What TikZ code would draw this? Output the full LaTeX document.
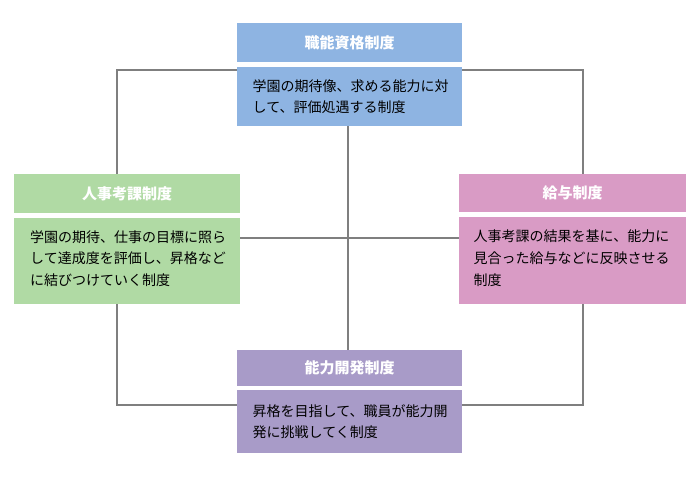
\documentclass[tikz,border=0pt]{standalone}
\usepackage{fontspec}
\newfontfamily\jp{Noto Sans CJK JP}
\definecolor{cblue}{HTML}{8EB4E2}
\definecolor{cgreen}{HTML}{B0DAA4}
\definecolor{cpink}{HTML}{D99BC5}
\definecolor{cpurple}{HTML}{A89BC8}
\definecolor{lgray}{HTML}{7F7F7F}
\tikzset{
  conn/.style={draw=lgray, line width=2pt},
  hdr/.style={draw=none, inner sep=0pt, text=white, font=\jp\bfseries\fontsize{15}{16}\selectfont},
  bodybox/.style={draw=none, inner sep=0pt},
  gapbox/.style={fill=white, draw=none, inner sep=0pt},
  txt/.style={inner sep=0pt, anchor=north west, align=left, font=\jp\fontsize{14}{21.7}\selectfont, text=black}
}
\begin{document}
\begin{tikzpicture}[x=1pt,y=-1pt]
\useasboundingbox (0,0) rectangle (700,489);
% corner coordinates of the frame
\coordinate (c1) at (116.5,70.5);
\coordinate (c2) at (582.5,70.5);
\coordinate (c3) at (582.5,405);
\coordinate (c4) at (116.5,405);
\coordinate (hl) at (200,237.7);
\coordinate (hr) at (500,237.7);
\coordinate (vt) at (347.8,100);
\coordinate (vb) at (347.8,400);
\draw[conn] (c1) -- (c2) -- (c3) -- (c4) -- cycle;
\draw[conn] (hl) -- (hr);
\draw[conn] (vt) -- (vb);

% top box
\node[gapbox, minimum width=225pt, minimum height=103pt] (tg) at (349.5,74.5) {};
\node[hdr, fill=cblue, minimum width=225pt, minimum height=39pt] (th) at (349.5,42.5) {職能資格制度};
\node[bodybox, fill=cblue, minimum width=225pt, minimum height=59pt] (tb) at (349.5,96.5) {};
\node[txt] (tt) at (252.5,79) {学園の期待像、求める能力に対\\して、評価処遇する制度};

% left box
\node[gapbox, minimum width=226pt, minimum height=130pt] (lg) at (127,239) {};
\node[hdr, fill=cgreen, minimum width=226pt, minimum height=39pt] (lh) at (127,193.5) {人事考課制度};
\node[bodybox, fill=cgreen, minimum width=226pt, minimum height=86pt] (lb) at (127,261) {};
\node[txt] (lt) at (30,230) {学園の期待、仕事の目標に照ら\\して達成度を評価し、昇格など\\に結びつけていく制度};

% right box
\node[gapbox, minimum width=227pt, minimum height=130pt] (rg) at (572.5,239) {};
\node[hdr, fill=cpink, minimum width=227pt, minimum height=38pt] (rh) at (572.5,193) {給与制度};
\node[bodybox, fill=cpink, minimum width=227pt, minimum height=87pt] (rb) at (572.5,260.5) {};
\node[txt] (rt) at (473.5,230) {人事考課の結果を基に、能力に\\見合った給与などに反映させる\\制度};

% bottom box
\node[gapbox, minimum width=225pt, minimum height=103pt] (bg) at (349.5,401.5) {};
\node[hdr, fill=cpurple, minimum width=225pt, minimum height=36pt] (bh) at (349.5,368) {能力開発制度};
\node[bodybox, fill=cpurple, minimum width=225pt, minimum height=63pt] (bb) at (349.5,421.5) {};
\node[txt] (bt) at (252.5,404) {昇格を目指して、職員が能力開\\発に挑戦してく制度};
\end{tikzpicture}
\end{document}
